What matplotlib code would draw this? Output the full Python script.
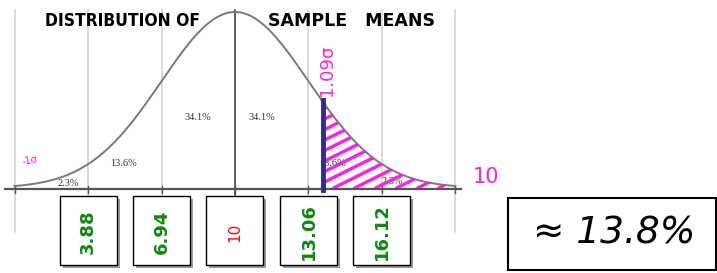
import numpy as np
import matplotlib
matplotlib.use("Agg")
import matplotlib.pyplot as plt
from matplotlib.patches import Rectangle

# ---- data ----
z_ticks = [-3, -2, -1, 0, 1, 2, 3]
band_labels = ["2.3%", "13.6%", "34.1%", "34.1%", "13.6%", "2.3%"]
box_z = [-2, -1, 0, 1, 2]
box_values = ["3.88", "6.94", "10", "13.06", "16.12"]
box_colors = ["#0a8a0a", "#0a8a0a", "#ff0a0a", "#0a8a0a", "#0a8a0a"]
z_cut = 1.2          # where the 1.09 sigma cut is drawn
cut_label = "1.09σ"
answer = "≈ 13.8%"

# ---- layout helpers (pixel -> data) ----
W, H = 717, 273
PX_MEAN, PX_SD = 235.0, 73.5
PX_BASE, PX_PER_D = 188.0, 441.2
def px2x(px): return (px - PX_MEAN) / PX_SD
def px2y(py): return (PX_BASE - py) / PX_PER_D
def dx(px): return px / PX_SD
def dy(py): return py / PX_PER_D

fig = plt.figure(figsize=(W / 100, H / 100), dpi=100)
ax = fig.add_axes([0, 0, 1, 1])
ax.set_xlim(px2x(0), px2x(W))
ax.set_ylim(px2y(H), px2y(0))
ax.axis("off")

pdf = lambda z: np.exp(-z ** 2 / 2) / np.sqrt(2 * np.pi)

# grid lines
for t in z_ticks:
    if t == 0:
        ax.plot([t, t], [px2y(10), px2y(196)], color="#333333", lw=1.1, zorder=2)
    else:
        ax.plot([t, t], [px2y(10), px2y(232)], color="#d8d8d8", lw=1.3, zorder=1)

# baseline axis + ticks
ax.plot([px2x(5), px2x(461)], [px2y(189), px2y(189)], color="#555555", lw=1.6, zorder=3)
for t in z_ticks:
    ax.plot([t, t], [px2y(186), px2y(193)], color="#555555", lw=1.0, zorder=3)

# curve
z = np.linspace(-3.0, 3.0, 400)
ax.plot(z, pdf(z), color="#7a7a7a", lw=1.4, zorder=4)

# band percentages
band_pos = [(68, 183), (124, 163), (198, 118), (262, 118), (333, 163), (392, 182)]
for lab, (px, py) in zip(band_labels, band_pos):
    ax.text(px2x(px), px2y(py), lab, fontsize=7.5, family="Liberation Serif",
            color="#333333", ha="center", va="center", zorder=3)

# hatched tail
zt = np.linspace(z_cut, 3.0, 200)
poly = ax.fill_between(zt, 0, pdf(zt), facecolor="none", edgecolor="none")
clip = poly.get_paths()[0]
slope = 0.5 * PX_SD / PX_PER_D
for c in np.arange(z_cut - 3.0, 3.0, dx(21)):
    xs = np.array([c, c + 3])
    ln, = ax.plot(xs, slope * (xs - c), color="#ff1ee8",
                  lw=2.4, solid_capstyle="round", zorder=5)
    ln.set_clip_path(clip, ax.transData)

# cut line
ax.plot([z_cut, z_cut], [px2y(190), pdf(z_cut) + dy(2)], color="#2e2e90", lw=3.5, zorder=6)
ax.text(z_cut + dx(4), px2y(70), cut_label, rotation=90, color="#ff1ee8",
        fontsize=13, ha="center", va="center", zorder=6)
ax.text(px2x(30), px2y(161), "-1σ", color="#ff1ee8", fontsize=7, ha="center",
        va="center", rotation=10)
ax.text(px2x(486), px2y(177), "10", color="#ff1ee8", fontsize=15, ha="center", va="center")

# title
ax.text(px2x(45), px2y(21), "DISTRIBUTION OF", fontsize=12.5, color="black",
        ha="left", va="center", fontweight="bold", fontstretch="condensed")
ax.text(px2x(268), px2y(21), "SAMPLE   MEANS", fontsize=12.5, color="black",
        ha="left", va="center", fontweight="bold")

# value boxes
bw, bh = dx(57), dy(69)
for zc, val, col in zip(box_z, box_values, box_colors):
    x0, y0 = zc - bw / 2, px2y(265)
    ax.add_patch(Rectangle((x0 + dx(3), y0 - dy(3)), bw, bh, facecolor="#9a9a9a",
                           edgecolor="none", zorder=7))
    ax.add_patch(Rectangle((x0, y0), bw, bh, facecolor="white", edgecolor="black",
                           lw=1.0, zorder=8))
    red = col == "#ff0a0a"
    ax.text(zc, px2y(232), val, rotation=90, color=col,
            fontsize=11 if red else 13, fontweight="normal" if red else "bold",
            ha="center", va="center", zorder=9)

# answer box
ax.add_patch(Rectangle((px2x(508), px2y(270)), dx(208), dy(72), facecolor="white",
                       edgecolor="black", lw=1.5, zorder=7))
ax.text(px2x(614), px2y(234), answer, fontsize=27, style="italic", color="black",
        ha="center", va="center", zorder=8)

fig.savefig("out.png", dpi=100)
